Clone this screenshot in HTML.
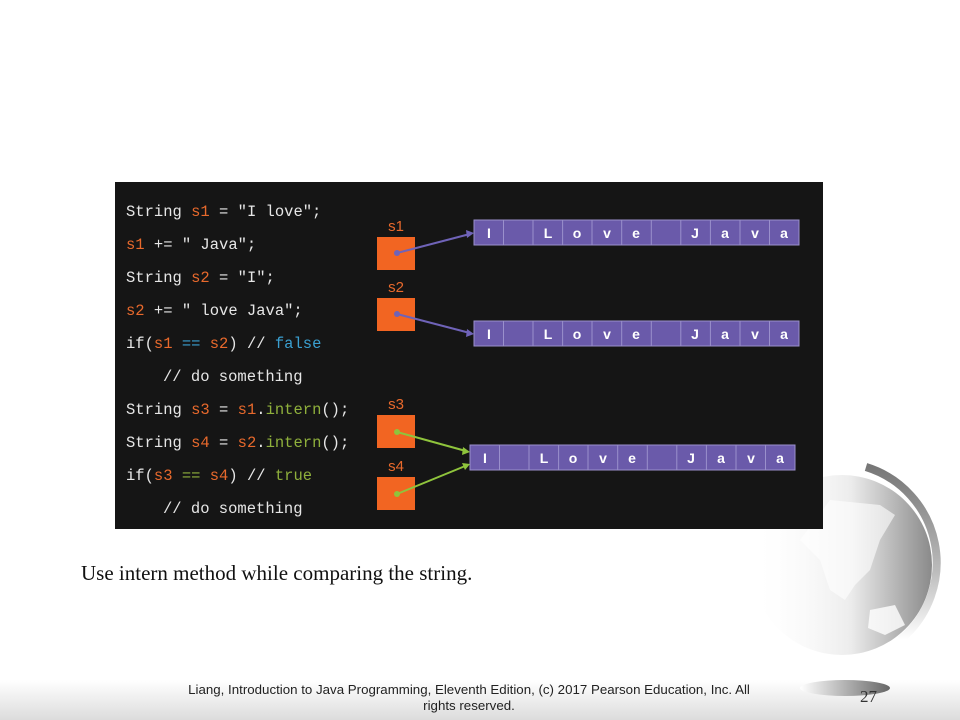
<!DOCTYPE html>
<html><head><meta charset="utf-8"><style>
html,body{margin:0;padding:0;width:960px;height:720px;overflow:hidden;background:#fff}
</style></head><body>
<svg width="960" height="720" viewBox="0 0 960 720" xmlns="http://www.w3.org/2000/svg">
<defs>
<linearGradient id="foot" x1="0" y1="0" x2="0" y2="1"><stop offset="0" stop-color="#fff"/><stop offset="1" stop-color="#dcdcdc"/></linearGradient>
<linearGradient id="globe" x1="0" y1="0" x2="1" y2="0"><stop offset="0" stop-color="#fff" stop-opacity="0"/><stop offset="0.55" stop-color="#ececec"/><stop offset="1" stop-color="#8a8a8a"/></linearGradient>
<linearGradient id="arc" x1="0" y1="0" x2="0" y2="1"><stop offset="0" stop-color="#777"/><stop offset="0.6" stop-color="#bbb"/><stop offset="1" stop-color="#fff"/></linearGradient>
<linearGradient id="pill" x1="0" y1="0" x2="1" y2="0"><stop offset="0" stop-color="#fff"/><stop offset="1" stop-color="#666"/></linearGradient>
</defs>
<rect x="0" y="680" width="960" height="40" fill="url(#foot)"/>
<!-- globe -->
<circle cx="842" cy="565" r="90" fill="url(#globe)"/>
<path d="M866,467 A100,100 0 0 1 900,640" fill="none" stroke="url(#arc)" stroke-width="8"/>
<path d="M830,500 L880,505 L895,515 L880,540 L870,570 L855,585 L845,600 L830,590 L820,560 L800,540 Z" fill="#fff" opacity="0.6"/>
<path d="M870,610 L895,605 L905,625 L885,635 L868,628 Z" fill="#fff" opacity="0.8"/>
<ellipse cx="845" cy="688" rx="45" ry="8" fill="url(#pill)"/>
<text x="860" y="702" font-family="Liberation Serif, serif" font-size="17" fill="#333">27</text>
<!-- panel -->
<rect x="115" y="182" width="708" height="347" fill="#151515"/>
<g font-family="Liberation Mono, monospace" font-size="15.5" fill="#e6e6e6">
<text x="126" y="216">String <tspan fill="#e8692c">s1</tspan> = "I love";</text>
<text x="126" y="249"><tspan fill="#e8692c">s1</tspan> += " Java";</text>
<text x="126" y="282">String <tspan fill="#e8692c">s2</tspan> = "I";</text>
<text x="126" y="315"><tspan fill="#e8692c">s2</tspan> += " love Java";</text>
<text x="126" y="348">if(<tspan fill="#e8692c">s1</tspan> <tspan fill="#3a9fd0">==</tspan> <tspan fill="#e8692c">s2</tspan>) // <tspan fill="#3a9fd0">false</tspan></text>
<text x="163" y="381">// do something</text>
<text x="126" y="414">String <tspan fill="#e8692c">s3</tspan> = <tspan fill="#e8692c">s1</tspan>.<tspan fill="#8fb03c">intern</tspan>();</text>
<text x="126" y="447">String <tspan fill="#e8692c">s4</tspan> = <tspan fill="#e8692c">s2</tspan>.<tspan fill="#8fb03c">intern</tspan>();</text>
<text x="126" y="480">if(<tspan fill="#e8692c">s3</tspan> <tspan fill="#8fb03c">==</tspan> <tspan fill="#e8692c">s4</tspan>) // <tspan fill="#8fb03c">true</tspan></text>
<text x="163" y="513">// do something</text>
</g>
<g font-family="Liberation Sans, sans-serif" font-size="15" fill="#e8692c" text-anchor="middle">
<text x="396" y="231">s1</text><text x="396" y="292">s2</text><text x="396" y="409">s3</text><text x="396" y="471">s4</text>
</g>
<g fill="#f26522">
<rect x="377" y="237" width="38" height="33"/><rect x="377" y="298" width="38" height="33"/>
<rect x="377" y="415" width="38" height="33"/><rect x="377" y="477" width="38" height="33"/>
</g>
<g font-family="Liberation Sans, sans-serif" font-weight="bold" font-size="14" fill="#fff" text-anchor="middle">
<rect x="474" y="220" width="325" height="25" fill="#6a5aaa" stroke="#9a90cc"/>
<rect x="474" y="321" width="325" height="25" fill="#6a5aaa" stroke="#9a90cc"/>
<rect x="470" y="445" width="325" height="25" fill="#6a5aaa" stroke="#9a90cc"/>
<g stroke="#9a90cc" stroke-width="1">
<path d="M503.5,220v25M533,220v25M562.6,220v25M592,220v25M621.7,220v25M651.3,220v25M680.8,220v25M710.4,220v25M740,220v25M769.5,220v25"/>
<path d="M503.5,321v25M533,321v25M562.6,321v25M592,321v25M621.7,321v25M651.3,321v25M680.8,321v25M710.4,321v25M740,321v25M769.5,321v25"/>
<path d="M499.5,445v25M529,445v25M558.6,445v25M588,445v25M617.7,445v25M647.3,445v25M676.8,445v25M706.4,445v25M736,445v25M765.5,445v25"/>
</g>
<text x="489" y="238">I</text><text x="548" y="238">L</text><text x="577" y="238">o</text><text x="607" y="238">v</text><text x="636" y="238">e</text><text x="695" y="238">J</text><text x="725" y="238">a</text><text x="755" y="238">v</text><text x="784" y="238">a</text>
<text x="489" y="339">I</text><text x="548" y="339">L</text><text x="577" y="339">o</text><text x="607" y="339">v</text><text x="636" y="339">e</text><text x="695" y="339">J</text><text x="725" y="339">a</text><text x="755" y="339">v</text><text x="784" y="339">a</text>
<text x="485" y="463">I</text><text x="544" y="463">L</text><text x="573" y="463">o</text><text x="603" y="463">v</text><text x="632" y="463">e</text><text x="691" y="463">J</text><text x="721" y="463">a</text><text x="751" y="463">v</text><text x="780" y="463">a</text>
</g>
<g stroke-width="2" fill="none">
<path d="M397,253 L468,234.5" stroke="#6f63b8"/><path d="M397,314 L468,332.5" stroke="#6f63b8"/>
<path d="M397,432 L464,450.5" stroke="#8fc43c"/><path d="M397,494 L464,466.5" stroke="#8fc43c"/>
</g>
<g>
<circle cx="397" cy="253" r="3" fill="#6f63b8"/><circle cx="397" cy="314" r="3" fill="#6f63b8"/>
<circle cx="397" cy="432" r="3" fill="#8fc43c"/><circle cx="397" cy="494" r="3" fill="#8fc43c"/>
<polygon points="474,233 466,230 467,238" fill="#6f63b8"/>
<polygon points="474,334 467,329 466,337" fill="#6f63b8"/>
<polygon points="470,452 463,447 462,455" fill="#8fc43c"/>
<polygon points="470,464 462,463 465,470" fill="#8fc43c"/>
</g>
<text x="81" y="580" font-family="Liberation Serif, serif" font-size="21" fill="#111">Use intern method while comparing the string.</text>
<g font-family="Liberation Sans, sans-serif" font-size="13.3" fill="#222" text-anchor="middle">
<text x="469" y="694">Liang, Introduction to Java Programming, Eleventh Edition, (c) 2017 Pearson Education, Inc. All</text>
<text x="469" y="710">rights reserved.</text>
</g>
</svg>
</body></html>
